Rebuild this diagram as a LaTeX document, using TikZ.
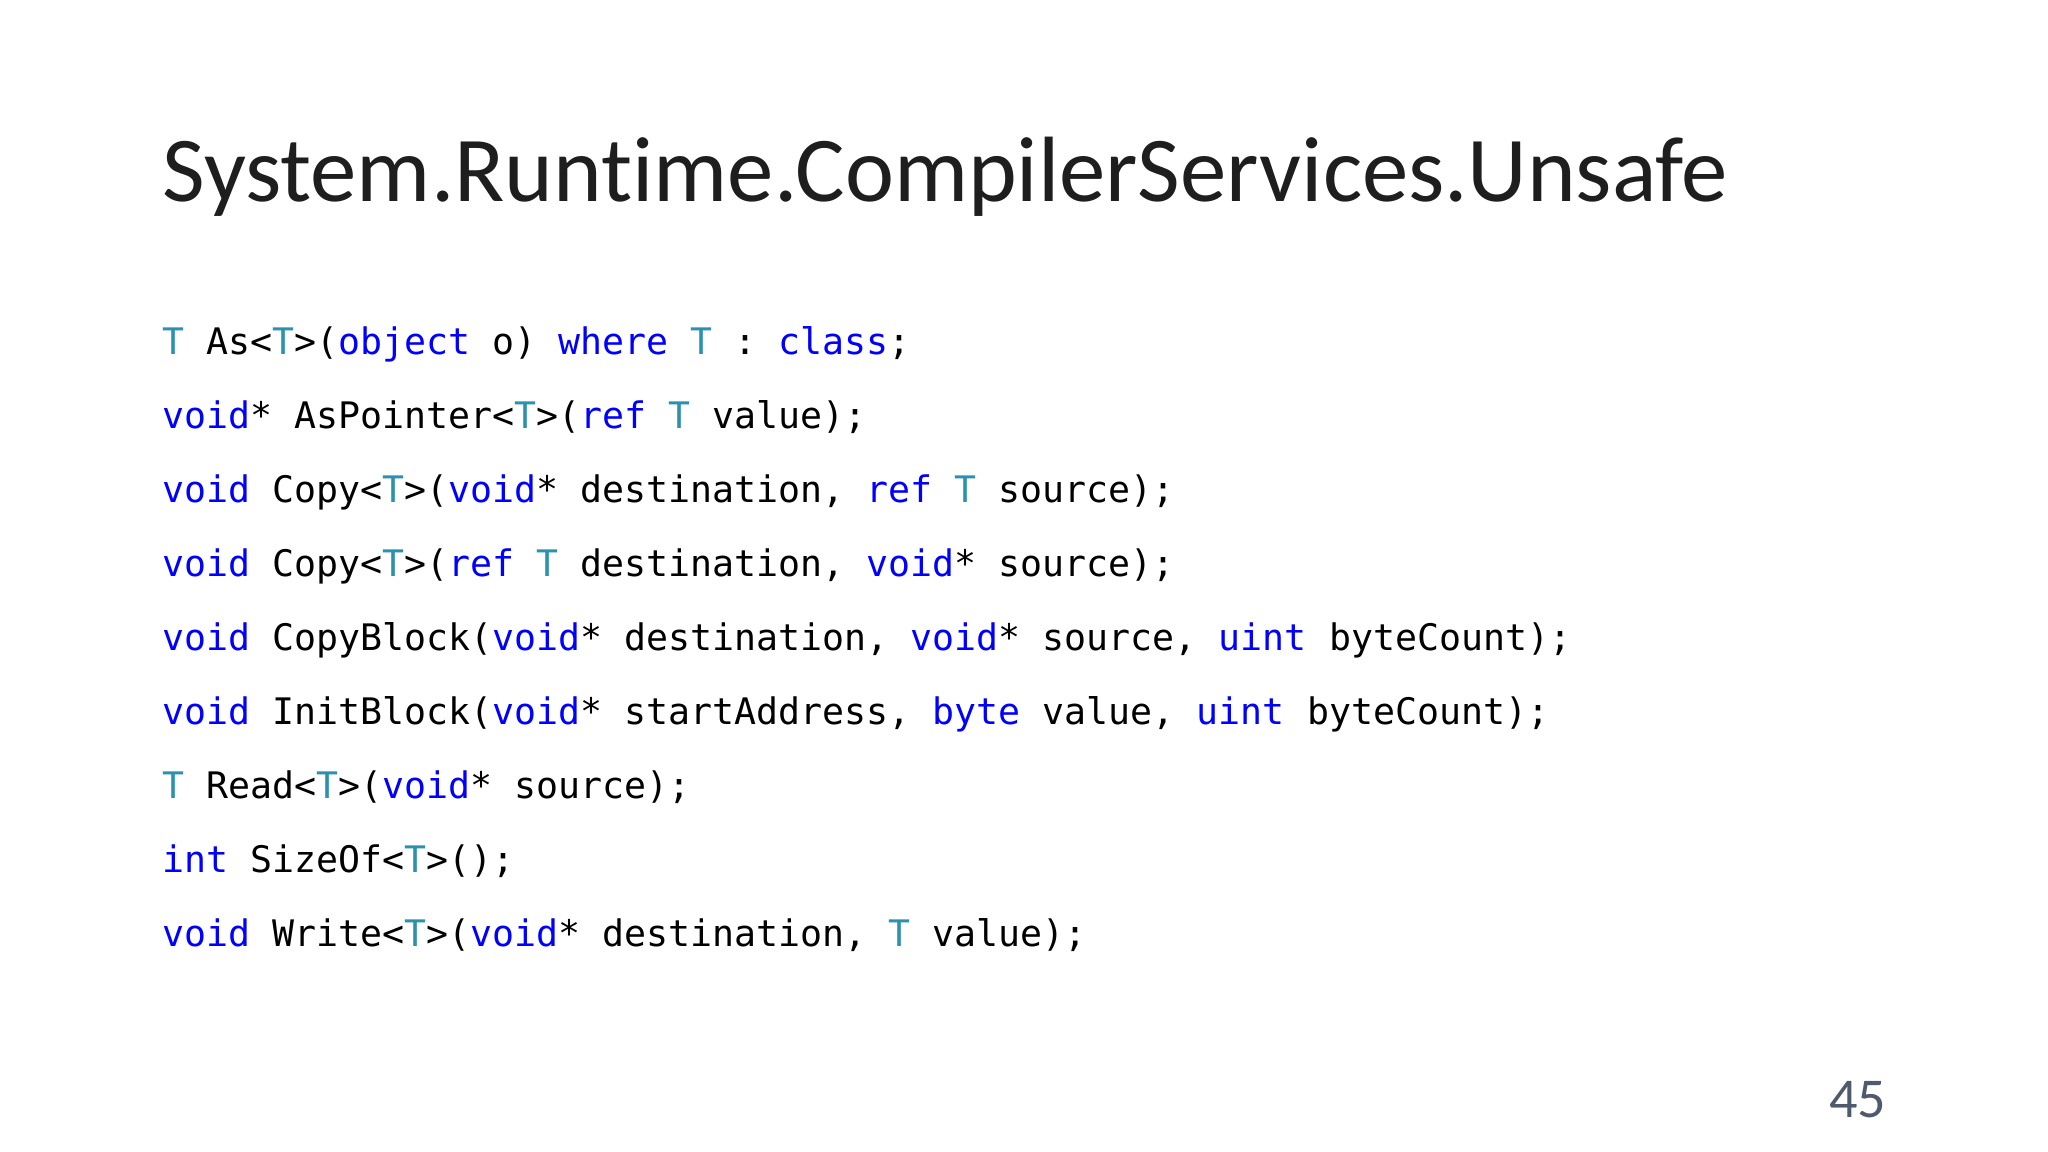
\documentclass[tikz,border=0pt]{standalone}
\usepackage{fontspec}
\setmainfont[Ligatures=NoCommon]{Carlito}
\newfontfamily\codefont{DejaVu Sans Mono}
\definecolor{kwc}{RGB}{0,0,255}
\definecolor{tyc}{RGB}{43,145,175}
\definecolor{numc}{RGB}{80,90,110}
\definecolor{titc}{RGB}{30,30,30}
\newcommand{\kw}[1]{\textcolor{kwc}{#1}}
\newcommand{\ty}{\textcolor{tyc}{T}}
\tikzset{codeline/.style={anchor=base west,inner sep=0pt,font=\codefont\fontsize{10.4pt}{12pt}\selectfont}}
\begin{document}
\begin{tikzpicture}
\useasboundingbox (0,0) rectangle (20.48,-11.52);
\node[anchor=base west,inner sep=0pt,text=titc,font=\fontsize{26.4pt}{32pt}\selectfont] (title) at (1.62,-2.02) {System.Runtime.CompilerServices.Unsafe};
\node[codeline] (l1) at (1.62,-3.55) {\ty{} As<\ty>(\kw{object} o) \kw{where} \ty{} : \kw{class};};
\node[codeline] (l2) at (1.62,-4.289) {\kw{void}* AsPointer<\ty>(\kw{ref} \ty{} value);};
\node[codeline] (l3) at (1.62,-5.028) {\kw{void} Copy<\ty>(\kw{void}* destination, \kw{ref} \ty{} source);};
\node[codeline] (l4) at (1.62,-5.767) {\kw{void} Copy<\ty>(\kw{ref} \ty{} destination, \kw{void}* source);};
\node[codeline] (l5) at (1.62,-6.506) {\kw{void} CopyBlock(\kw{void}* destination, \kw{void}* source, \kw{uint} byteCount);};
\node[codeline] (l6) at (1.62,-7.245) {\kw{void} InitBlock(\kw{void}* startAddress, \kw{byte} value, \kw{uint} byteCount);};
\node[codeline] (l7) at (1.62,-7.984) {\ty{} Read<\ty>(\kw{void}* source);};
\node[codeline] (l8) at (1.62,-8.723) {\kw{int} SizeOf<\ty>();};
\node[codeline] (l9) at (1.62,-9.462) {\kw{void} Write<\ty>(\kw{void}* destination, \ty{} value);};
\node[anchor=base east,inner sep=0pt,text=numc,font=\fontsize{16pt}{18pt}\selectfont] (num) at (18.87,-11.17) {45};
\end{tikzpicture}
\end{document}
